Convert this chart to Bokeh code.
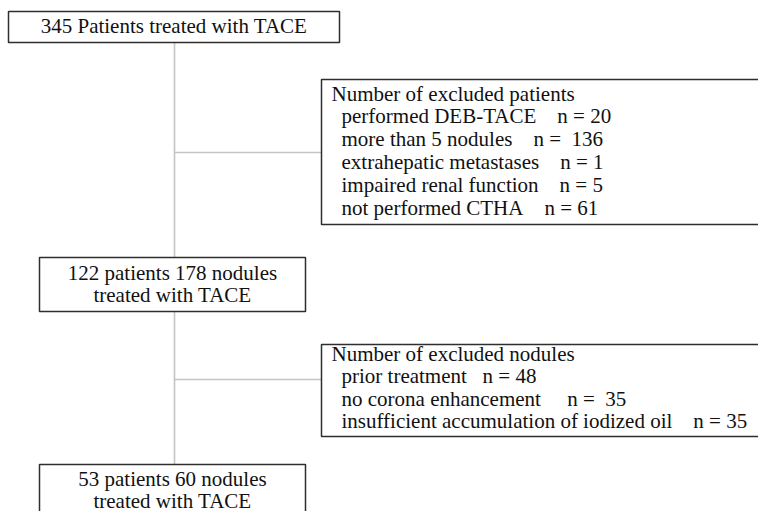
from bokeh.plotting import figure
from bokeh.models import Range1d, ColumnDataSource
from bokeh.core.properties import value
from bokeh.embed import file_html
from bokeh.resources import INLINE

NB = "\u00a0"

# ---- data (texts of the flow chart) ----
start_text = ["345 Patients treated with TACE"]
mid_text = ["122 patients 178 nodules", "treated with TACE"]
end_text = ["53 patients 60 nodules", "treated with TACE"]

excl_patients_title = "Number of excluded patients"
excl_patients_reasons = ["performed DEB-TACE", "more than 5 nodules", "extrahepatic metastases",
                         "impaired renal function", "not performed CTHA"]
excl_patients_n = ["n = 20", "n =" + NB + NB + "136", "n = 1", "n = 5", "n = 61"]
excl_patients_gap = [4, 4, 4, 4, 4]

excl_nodules_title = "Number of excluded nodules"
excl_nodules_reasons = ["prior treatment", "no corona enhancement",
                        "insufficient accumulation of iodized oil"]
excl_nodules_n = ["n = 48", "n =" + NB + NB + "35", "n = 35"]
excl_nodules_gap = [3, 5, 4]

# ---- layout (pixel coordinates of the picture) ----
FONT = value("Liberation Serif")
FS = "21px"
TXT = "#111111"
BOX = "#2e2e2e"
CONN = "#c4c4c4"

p = figure(width=758, height=511, output_backend="svg", toolbar_location=None,
           x_range=Range1d(0, 758), y_range=Range1d(511, 0),
           min_border=0, outline_line_color=None)
p.axis.visible = False
p.grid.visible = False
p.background_fill_color = "white"
p.border_fill_color = "white"

# connectors
p.segment(x0=[174, 174, 174, 174], y0=[42, 311, 152, 379],
          x1=[174, 174, 321, 321], y1=[257, 464, 152, 379],
          line_color=CONN, line_width=1.6)

# boxes: left, right, top, bottom
boxes = dict(left=[8, 321, 39, 321, 39], right=[339, 780, 305, 780, 305],
             top=[11, 79, 257, 344, 464], bottom=[42, 224, 311, 436, 530])
p.quad(source=ColumnDataSource(boxes), left="left", right="right", top="top", bottom="bottom",
       fill_color="white", line_color=BOX, line_width=1.5)

def centered(lines, cx, ys):
    p.text(x=[cx] * len(lines), y=ys, text=lines, text_font=FONT, text_font_size=FS,
           text_color=TXT, text_align="center", text_baseline="middle")

def left(lines, x, ys):
    p.text(x=[x] * len(lines), y=ys, text=lines, text_font=FONT, text_font_size=FS,
           text_color=TXT, text_align="left", text_baseline="middle")

centered(start_text, 173.5, [25])
centered(mid_text, 172, [272, 294])
centered(end_text, 172, [478, 500])

rows_p = [r + NB * g + n for r, n, g in zip(excl_patients_reasons, excl_patients_n, excl_patients_gap)]
left([excl_patients_title], 331, [93])
left(rows_p, 341, [93 + 22.9 * (i + 1) for i in range(len(rows_p))])

rows_n = [r + NB * g + n for r, n, g in zip(excl_nodules_reasons, excl_nodules_n, excl_nodules_gap)]
left([excl_nodules_title], 331, [353])
left(rows_n, 341, [353 + 22.6 * (i + 1) for i in range(len(rows_n))])

open("out.html", "w").write(file_html(p, INLINE))
